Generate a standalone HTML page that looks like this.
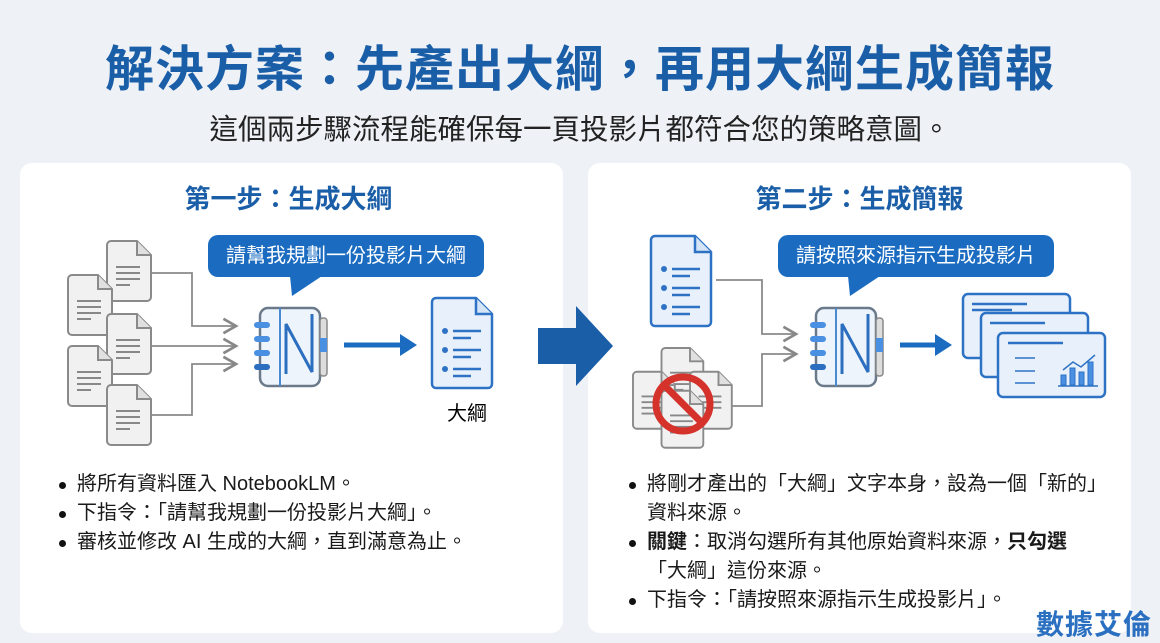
<!DOCTYPE html>
<html><head><meta charset="utf-8"><style>
*{margin:0;padding:0;box-sizing:border-box}
body{width:1160px;height:639px;background:#eef2f7;position:relative;overflow:hidden;font-family:"Liberation Sans","Noto Sans CJK TC",sans-serif;color:#1a1a1a}
.abs{position:absolute}
.title{left:0;width:1160px;top:30px;text-align:center;font-size:49px;font-weight:bold;color:#1b5ea8;letter-spacing:1px;white-space:nowrap}
.sub{left:0;width:1160px;top:107px;text-align:center;font-size:28.5px;color:#222;white-space:nowrap}
.panel{background:#fff;border-radius:12px;top:163px;height:470px;width:543px}
.h{font-size:26px;font-weight:bold;color:#1b5ea8;text-align:center;width:543px;top:179px}
.bubble{background:#1b6cc0;color:#fff;border-radius:10px;font-size:20px;height:42px;line-height:42px;text-align:center}
ul{list-style:none;font-size:20px;line-height:29px}
li{position:relative;padding-left:22px}
li:before{content:"";position:absolute;left:4px;top:12px;width:7px;height:7px;border-radius:50%;background:#111}
.wm{right:8px;bottom:-4px;font-size:28px;color:#2a6fc0;font-weight:bold;letter-spacing:1px}
</style></head><body>
<div class="abs title">解決方案：先產出大綱，再用大綱生成簡報</div>
<div class="abs sub">這個兩步驟流程能確保每一頁投影片都符合您的策略意圖。</div>
<div class="abs panel" style="left:20px"></div>
<div class="abs panel" style="left:588px"></div>
<div class="abs h" style="left:17px">第一步：生成大綱</div>
<div class="abs h" style="left:588px">第二步：生成簡報</div>
<div class="abs bubble" style="left:208px;top:235px;width:276px">請幫我規劃一份投影片大綱</div>
<div class="abs bubble" style="left:778px;top:235px;width:276px">請按照來源指示生成投影片</div>
<svg class="abs" style="left:0;top:0" width="1160" height="639">
<defs>
<g id="gdoc"><path d="M0 4 a4 4 0 0 1 4 -4 h26 l14 14 v42 a4 4 0 0 1 -4 4 h-36 a4 4 0 0 1 -4 -4z" fill="#f1f1f1" stroke="#8a8a8a" stroke-width="2"/><path d="M30 0 v14 h14" fill="#e0e0e0" stroke="#8a8a8a" stroke-width="2"/><path d="M9 26h24M9 32h24M9 38h24M9 44h14" stroke="#888" stroke-width="2"/></g>
<g id="nb"><rect x="0" y="0" width="60" height="78" rx="8" fill="#eef4fb" stroke="#6a7a8a" stroke-width="2.5"/><rect x="60" y="10" width="7" height="58" rx="3" fill="#ddd" stroke="#888" stroke-width="1.5"/><rect x="60" y="30" width="7" height="14" fill="#4a90e2"/><path d="M20 0v78" stroke="#4a8ad0" stroke-width="2"/><path d="M26 66V16l26 48V6" fill="none" stroke="#2c6fc0" stroke-width="3"/><g fill="#4a90e2"><rect x="-6" y="14" width="16" height="6" rx="3"/><rect x="-6" y="28" width="16" height="6" rx="3"/><rect x="-6" y="42" width="16" height="6" rx="3"/><rect x="-6" y="56" width="16" height="6" rx="3" fill="#2c6fc0"/></g></g>
<g id="bdoc"><path d="M0 4 a4 4 0 0 1 4 -4 h40 l16 16 v70 a4 4 0 0 1 -4 4 h-52 a4 4 0 0 1 -4 -4z" fill="#e8f1fb" stroke="#2d72c4" stroke-width="2.5"/><path d="M44 0 v16 h16" fill="#d5e5f7" stroke="#2d72c4" stroke-width="2.5"/><g fill="#2d72c4"><circle cx="13" cy="33" r="3"/><circle cx="13" cy="52" r="3"/><circle cx="13" cy="71" r="3"/></g><path d="M21 33h28M21 40h18M21 52h28M21 59h18M21 71h28M21 78h18" stroke="#2d72c4" stroke-width="2.5"/></g>
<marker id="ah" markerWidth="10" markerHeight="10" refX="8" refY="5" orient="auto"><path d="M1 1L8 5L1 9" fill="none" stroke="#888" stroke-width="1.5"/></marker>
</defs>
<path d="M290 276 L292 296 L322 276z" fill="#1b6cc0"/>
<path d="M848 276 L850 296 L880 276z" fill="#1b6cc0"/>
<g fill="none" stroke="#8a8a8a" stroke-width="1.8" marker-end="url(#ah)">
<path d="M150 273H192V326H236"/><path d="M150 346H236"/><path d="M150 415H192V364H236"/>
<path d="M716 280H762V334H796"/><path d="M716 406H762V354H796"/>
</g>
<use href="#gdoc" x="107" y="241"/><use href="#gdoc" x="68" y="275"/><use href="#gdoc" x="107" y="314"/><use href="#gdoc" x="68" y="346"/><use href="#gdoc" x="107" y="385"/>
<use href="#nb" x="260" y="308"/>
<path d="M344 345h60" stroke="#1b6cc0" stroke-width="5"/><path d="M400 334l17 11-17 11z" fill="#1b6cc0"/>
<use href="#bdoc" x="432" y="298"/>
<text x="467" y="420" font-size="20" text-anchor="middle" font-family="Liberation Sans,Noto Sans CJK TC,sans-serif">大綱</text>
<path d="M538 328h38v-22l37 40-37 40v-22h-38z" fill="#1b5ea8"/>
<use href="#bdoc" x="651" y="236"/>
<g transform="translate(633,348) scale(0.95)"><use href="#gdoc" x="30" y="0"/><use href="#gdoc" x="0" y="25"/><use href="#gdoc" x="60" y="25"/><use href="#gdoc" x="30" y="45"/></g>
<circle cx="683" cy="404" r="27" fill="none" stroke="#d6322c" stroke-width="7"/><path d="M664 385l38 38" stroke="#d6322c" stroke-width="7"/>
<use href="#nb" x="816" y="308"/>
<path d="M900 345h38" stroke="#1b6cc0" stroke-width="5"/><path d="M935 334l17 11-17 11z" fill="#1b6cc0"/>
<g stroke="#2d72c4" stroke-width="2.5" fill="#e8f1fb">
<rect x="963" y="294" width="107" height="64" rx="5"/><rect x="981" y="313" width="107" height="64" rx="5"/><rect x="998" y="333" width="107" height="64" rx="5"/>
</g>
<g stroke="#2d72c4" stroke-width="2.5"><path d="M972 304h55M972 310h40M990 323h55M1008 343h55"/><path d="M1015 358h20M1015 371h20M1015 383h20" stroke-width="1.5"/><path d="M1058 386h40" stroke-width="1.5"/><path d="M1063 370l10-8 8 5 14-12" fill="none" stroke-width="1.5"/></g>
<g fill="#4a90e2" stroke="#2d72c4"><rect x="1061" y="375" width="5" height="10"/><rect x="1070" y="368" width="5" height="17"/><rect x="1079" y="372" width="5" height="13"/><rect x="1088" y="362" width="5" height="23"/></g>
</svg>
<ul class="abs" style="left:55px;top:470px;width:500px">
<li>將所有資料匯入 NotebookLM。</li>
<li>下指令：「請幫我規劃一份投影片大綱」。</li>
<li>審核並修改 AI 生成的大綱，直到滿意為止。</li>
</ul>
<ul class="abs" style="left:625px;top:470px;width:478px;line-height:29px">
<li>將剛才產出的「大綱」文字本身，設為一個「新的」資料來源。</li>
<li><b>關鍵</b>：取消勾選所有其他原始資料來源，<b>只勾選</b>「大綱」這份來源。</li>
<li>下指令：「請按照來源指示生成投影片」。</li>
</ul>
<div class="abs wm">數據艾倫</div>
</body></html>
